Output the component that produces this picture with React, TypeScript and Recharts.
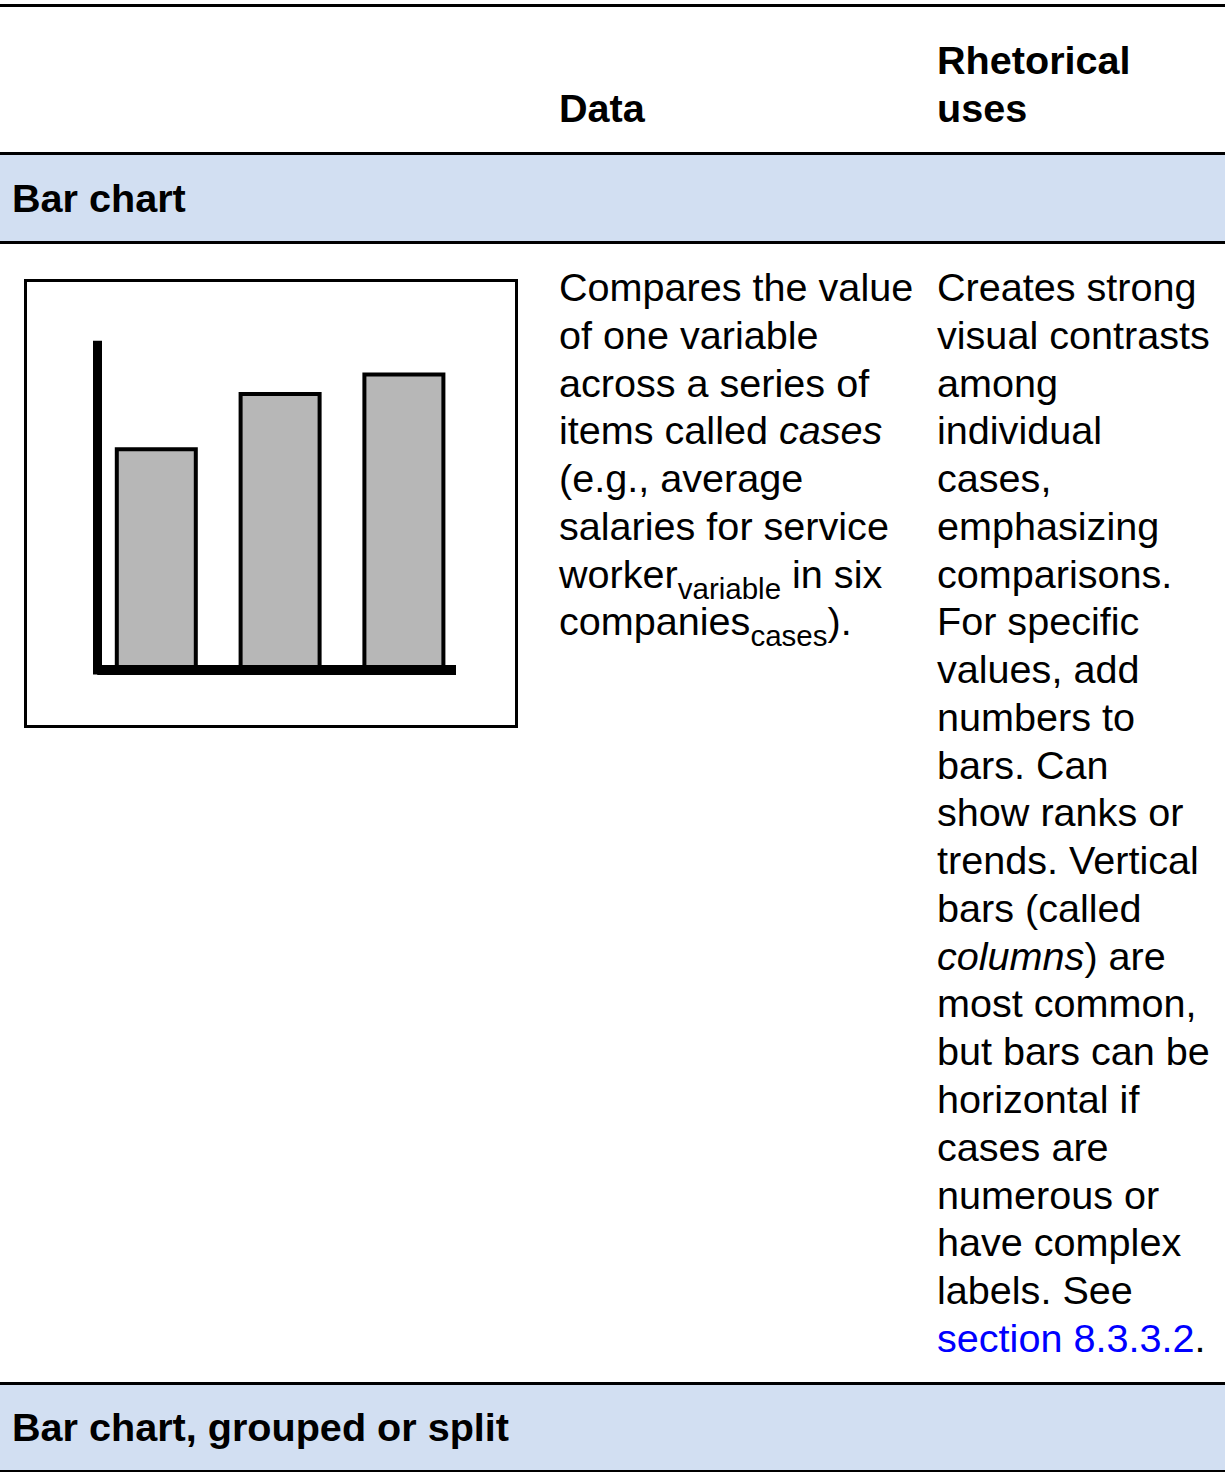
import { BarChart, Bar, XAxis, YAxis, ReferenceLine } from 'recharts';

// the little column chart in the first cell
const cases = ['Case 1', 'Case 2', 'Case 3'];
const values = [68, 85, 91];
const valueDomain = [0, 100];

const chartData = cases.map((name, i) => ({ name, value: values[i] }));

const FONT = '"Liberation Sans", Arial, Helvetica, sans-serif';
const FS = 39.6;
const LH = 47.77;
const BAND = '#d2dff2';

const dataLines = [
    'Compares the value',
    'of one variable',
    'across a series of',
];

const usesLines = [
    'Creates strong',
    'visual contrasts',
    'among',
    'individual',
    'cases,',
    'emphasizing',
    'comparisons.',
    'For specific',
    'values, add',
    'numbers to',
    'bars. Can',
    'show ranks or',
    'trends. Vertical',
    'bars (called',
];

const usesLinesAfter = [
    'most common,',
    'but bars can be',
    'horizontal if',
    'cases are',
    'numerous or',
    'have complex',
    'labels. See',
];

const line = { height: LH, lineHeight: `${LH}px`, whiteSpace: 'pre' as const };
const sub = { fontSize: 29.5, lineHeight: 0, position: 'relative' as const, top: 11 };

const Rule = ({ y }: { y: number }) => (
    <div style={{ position: 'absolute', left: 0, top: y, width: 1225, height: 3, background: '#000' }} />
);

const MiniBarChart = () => (
    <div style={{ position: 'absolute', left: 24, top: 279, width: 494, height: 449 }}>
        <BarChart
            width={494}
            height={449}
            data={chartData}
            margin={{ top: 66.2, right: 62, bottom: 0, left: 0 }}
            barSize={79}
        >
            <XAxis
                dataKey="name"
                height={58}
                tick={false}
                tickLine={false}
                axisLine={{ stroke: '#000', strokeWidth: 10 }}
                padding={{ left: -2.7, right: -10.2 }}
            />
            <YAxis
                width={73.5}
                domain={valueDomain}
                tick={false}
                tickLine={false}
                axisLine={{ stroke: '#000', strokeWidth: 9, strokeLinecap: 'square' }}
            />
            <Bar dataKey="value" fill="#b7b7b7" stroke="#000" strokeWidth={4} isAnimationActive={false} />
            <ReferenceLine y={0} stroke="#000" strokeWidth={10} />
        </BarChart>
        <div
            style={{
                position: 'absolute',
                left: 0,
                top: 0,
                width: 494,
                height: 449,
                border: '3.5px solid #000',
                boxSizing: 'border-box',
                pointerEvents: 'none'
            }}
        />
    </div>
);

export default function App() {
    return (
        <div
            style={{
                position: 'absolute',
                left: 0,
                top: 0,
                width: 1225,
                height: 1472,
                background: '#fff',
                fontFamily: FONT,
                fontSize: FS,
                color: '#000',
                overflow: 'hidden'
            }}
        >
            {/* header row */}
            <Rule y={4} />
            <div style={{ position: 'absolute', left: 559, top: 85, fontWeight: 'bold', ...line }}>Data</div>
            <div style={{ position: 'absolute', left: 937, top: 37.2, fontWeight: 'bold' }}>
                <div style={line}>Rhetorical</div>
                <div style={line}>uses</div>
            </div>
            <Rule y={152} />

            {/* bar chart band */}
            <div
                style={{
                    position: 'absolute', left: 0, top: 155, width: 1225, height: 86, background: BAND,
                    display: 'flex', alignItems: 'center'
                }}
            >
                <span style={{ marginLeft: 12, fontWeight: 'bold' }}>Bar chart</span>
            </div>
            <Rule y={241} />

            <MiniBarChart />

            <div style={{ position: 'absolute', left: 559, top: 264 }}>
                {dataLines.map((t) => <div key={t} style={line}>{t}</div>)}
                <div style={line}>items called <i>cases</i></div>
                <div style={line}>(e.g., average</div>
                <div style={line}>salaries for service</div>
                <div style={line}>worker<span style={sub}>variable</span> in six</div>
                <div style={line}>companies<span style={sub}>cases</span>).</div>
            </div>

            <div style={{ position: 'absolute', left: 937, top: 264 }}>
                {usesLines.map((t) => <div key={t} style={line}>{t}</div>)}
                <div style={line}><i>columns</i>) are</div>
                {usesLinesAfter.map((t) => <div key={t} style={line}>{t}</div>)}
                <div style={line}><span style={{ color: '#0000ff' }}>section 8.3.3.2</span>.</div>
            </div>

            {/* next band */}
            <Rule y={1382} />
            <div
                style={{
                    position: 'absolute', left: 0, top: 1385, width: 1225, height: 85, background: BAND,
                    display: 'flex', alignItems: 'center'
                }}
            >
                <span style={{ marginLeft: 12, fontWeight: 'bold' }}>Bar chart, grouped or split</span>
            </div>
            <div style={{ position: 'absolute', left: 0, top: 1470, width: 1225, height: 2, background: '#000' }} />
        </div>
    );
}
